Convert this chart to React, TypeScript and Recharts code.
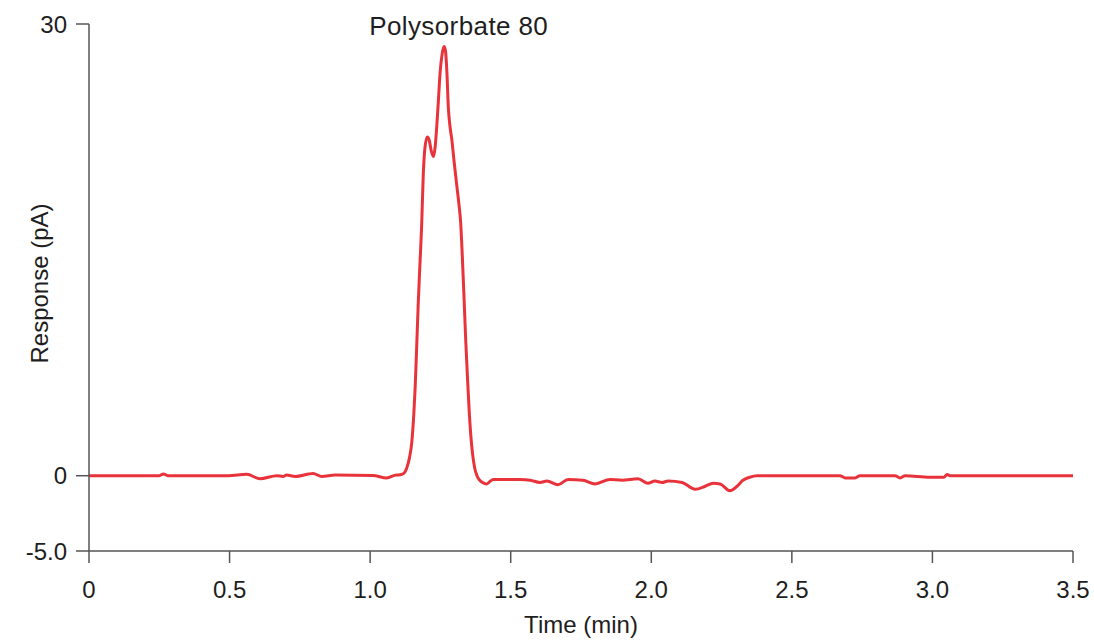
import { LineChart, Line, XAxis, YAxis, ReferenceDot } from 'recharts'

// retention time (min)
const TIME = [
  0, 0.25, 0.265, 0.28, 0.495, 0.561, 0.608, 0.668, 0.69, 0.703, 0.733, 0.797, 0.828, 0.875, 1.01, 1.059,
  1.094, 1.1, 1.115, 1.13, 1.14, 1.148, 1.155, 1.16, 1.166, 1.171, 1.177, 1.183, 1.189, 1.195, 1.203, 1.21,
  1.217, 1.225, 1.231, 1.237, 1.243, 1.249, 1.256, 1.263, 1.268, 1.273, 1.278, 1.284, 1.29, 1.299, 1.308,
  1.316, 1.322, 1.328, 1.334, 1.34, 1.346, 1.352, 1.358, 1.364, 1.372, 1.38, 1.39, 1.4, 1.414, 1.425, 1.438,
  1.533, 1.569, 1.604, 1.629, 1.668, 1.704, 1.757, 1.8, 1.853, 1.896, 1.953, 1.988, 2.013, 2.038, 2.06, 2.11,
  2.156, 2.192, 2.22, 2.245, 2.28, 2.305, 2.326, 2.35, 2.376, 2.671, 2.69, 2.725, 2.742, 2.867, 2.885, 2.903,
  2.991, 3.041, 3.052, 3.063, 3.5,
]

// detector response (pA)
const RESPONSE = [
  0, 0, 0.12, 0, 0, 0.1, -0.2, 0, -0.05, 0.05, -0.05, 0.15, -0.05, 0.05, 0.02, -0.15,
  0.05, 0.05, 0.1, 0.5, 1.2, 2.2, 4.0, 5.8, 8.8, 11.4, 14, 16.5, 20.0, 21.8, 22.5, 22.3,
  21.6, 21.2, 21.8, 23.2, 25.0, 26.8, 28.0, 28.5, 28.2, 26.8, 24.5, 23.2, 22.4, 20.8, 19.3,
  18.0, 16.8, 14.5, 11.8, 9.0, 6.6, 4.4, 2.7, 1.5, 0.5, 0, -0.3, -0.45, -0.55, -0.4, -0.25,
  -0.25, -0.3, -0.45, -0.35, -0.6, -0.25, -0.3, -0.55, -0.25, -0.3, -0.2, -0.5, -0.35, -0.45, -0.35, -0.45,
  -0.9, -0.7, -0.5, -0.55, -1.0, -0.7, -0.3, -0.1, 0, 0, -0.15, -0.15, 0, 0, -0.15, 0,
  -0.1, -0.1, 0.08, 0, 0,
]

const X_TICKS = [0, 0.5, 1.0, 1.5, 2.0, 2.5, 3.0, 3.5]
const Y_TICKS = [-5, 0, 30]
const Y_TICK_LABELS = ['-5.0', '0', '30']

const PEAK_NAME = 'Polysorbate 80'
const PEAK_LABEL_TIME = 1.315
const PEAK_LABEL_Y = 30

const data = TIME.map((t, i) => ({ time: t, response: RESPONSE[i] }))

const FONT = '"Liberation Sans", Arial, Helvetica, sans-serif'
const TEXT = '#1e1e1e'
const AXIS = '#555'

export default function App() {
  return (
    <div style={{ position: 'absolute', left: 0, top: 0, width: 1094, height: 640, background: '#fff' }}>
      <LineChart
        width={1094}
        height={640}
        data={data}
        margin={{ top: 24, right: 21, bottom: 0, left: 0 }}
        style={{ fontFamily: FONT }}
      >
        <XAxis
          type="number"
          dataKey="time"
          domain={[0, 3.5]}
          ticks={X_TICKS}
          tickFormatter={(v: number) => (v === 0 ? '0' : v.toFixed(1))}
          height={89}
          tickSize={12}
          tickMargin={18}
          stroke={AXIS}
          strokeWidth={1.5}
          tick={{ fill: TEXT, fontSize: 24 }}
          label={{
            content: ({ viewBox }: any) => {
              const vb = viewBox || { x: 89, y: 551, width: 984 }
              return (
                <text x={vb.x + vb.width / 2} y={vb.y + 82} textAnchor="middle" fill={TEXT} fontSize={24}>
                  Time (min)
                </text>
              )
            },
          }}
        />
        <YAxis
          type="number"
          domain={[-5, 30]}
          ticks={Y_TICKS}
          tickFormatter={(v: number) => Y_TICK_LABELS[Y_TICKS.indexOf(v)] ?? String(v)}
          width={89}
          tickSize={13}
          tickMargin={9}
          stroke={AXIS}
          strokeWidth={1.5}
          tick={{ fill: TEXT, fontSize: 24 }}
          label={{
            content: ({ viewBox }: any) => {
              const vb = viewBox || { x: 0, y: 24, height: 527 }
              const cx = 39
              const cy = vb.y + vb.height / 2 - 4
              return (
                <text
                  x={cx}
                  y={cy}
                  transform={`rotate(-90, ${cx}, ${cy})`}
                  textAnchor="middle"
                  dominantBaseline="central"
                  fill={TEXT}
                  fontSize={24}
                >
                  Response (pA)
                </text>
              )
            },
          }}
        />
        <Line
          type="monotone"
          dataKey="response"
          stroke="#e8333b"
          strokeWidth={3}
          dot={false}
          isAnimationActive={false}
        />
        <ReferenceDot
          x={PEAK_LABEL_TIME}
          y={PEAK_LABEL_Y}
          r={0}
          fill="none"
          stroke="none"
          ifOverflow="visible"
          label={{
            content: ({ viewBox }: any) => {
              const vb = viewBox || { x: 458, y: 24, width: 0 }
              return (
                <text
                  x={vb.x + (vb.width || 0) / 2}
                  y={vb.y + 11}
                  textAnchor="middle"
                  fill={TEXT}
                  fontSize={26}
                  letterSpacing={0.4}
                >
                  {PEAK_NAME}
                </text>
              )
            },
          }}
        />
      </LineChart>
    </div>
  )
}
